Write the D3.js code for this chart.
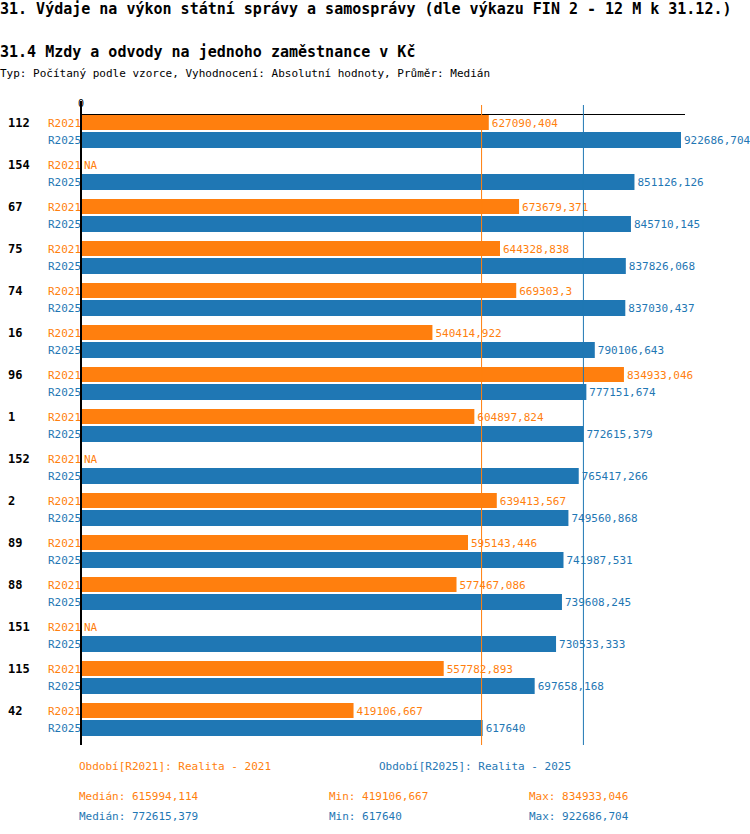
<!DOCTYPE html><html><head><meta charset="utf-8"><script src="https://cdn.jsdelivr.net/npm/d3@7"></script>
<style>body{margin:0;background:#fff}text{font-family:"DejaVu Sans Mono",monospace}</style></head><body><svg id="c" width="750" height="834"></svg>
<script>
const categories=["112","154","67","75","74","16","96","1","152","2","89","88","151","115","42"];
const r2021=[627090.404,null,673679.371,644328.838,669303.3,540414.922,834933.046,604897.824,null,639413.567,595143.446,577467.086,null,557782.893,419106.667];
const r2025=[922686.704,851126.126,845710.145,837826.068,837030.437,790106.643,777151.674,772615.379,765417.266,749560.868,741987.531,739608.245,730533.333,697658.168,617640];
const medians=[615994.114,772615.379];
const colors=["#ff7f0e","#1f77b4"];
const fmt=v=>String(v).replace(".",",");
const svg=d3.select("#c");
const x=d3.scaleLinear().domain([0,922686.704]).range([81,681]);
const y=d3.scaleBand().domain(categories).range([115,745]);
svg.append("text").attr("x",0).attr("y",14).attr("font-size",15).attr("font-weight","bold").text("31. Výdaje na výkon státní správy a samosprávy (dle výkazu FIN 2 - 12 M k 31.12.)");
svg.append("text").attr("x",0).attr("y",57).attr("font-size",15).attr("font-weight","bold").text("31.4 Mzdy a odvody na jednoho zaměstnance v Kč");
svg.append("text").attr("x",0).attr("y",77).attr("font-size",11).text("Typ: Počítaný podle vzorce, Vyhodnocení: Absolutní hodnoty, Průměr: Medián");
svg.append("text").attr("x",x(0)).attr("y",107).attr("font-size",10).attr("text-anchor","middle").text("0");
svg.append("line").attr("x1",x(0)).attr("x2",685).attr("y1",114.5).attr("y2",114.5).attr("stroke","#000");
categories.forEach((c,i)=>{
  const g=y(c);
  svg.append("text").attr("x",8).attr("y",g+12).attr("font-size",12).attr("font-weight","bold").text(c);
  [r2021[i],r2025[i]].forEach((v,k)=>{
    const yy=g+(k?17:0), h=k?16:15;
    svg.append("text").attr("x",48).attr("y",yy+h/2+4).attr("font-size",11).attr("fill",colors[k]).text(k?"R2025":"R2021");
    if(v==null){svg.append("text").attr("x",x(0)+3).attr("y",yy+h/2+4).attr("font-size",11).attr("fill",colors[k]).text("NA");return;}
    svg.append("rect").attr("x",x(0)).attr("y",yy).attr("width",x(v)-x(0)).attr("height",h).attr("fill",colors[k]);
    svg.append("text").attr("x",x(v)+3).attr("y",yy+h/2+4).attr("font-size",11).attr("fill",colors[k]).text(fmt(v));
  });
});
medians.forEach((m,k)=>svg.append("line").attr("x1",x(m)).attr("x2",x(m)).attr("y1",105).attr("y2",745).attr("stroke",colors[k]));
svg.append("line").attr("x1",x(0)).attr("x2",x(0)).attr("y1",101).attr("y2",745).attr("stroke","#000").attr("stroke-width",2);
const stats=[["615994,114","419106,667","834933,046"],["772615,379","617640","922686,704"]];
svg.append("text").attr("x",79).attr("y",770).attr("font-size",11).attr("fill",colors[0]).text("Období[R2021]: Realita - 2021");
svg.append("text").attr("x",379).attr("y",770).attr("font-size",11).attr("fill",colors[1]).text("Období[R2025]: Realita - 2025");
stats.forEach((s,k)=>{const yy=800+k*20;
  svg.append("text").attr("x",79).attr("y",yy).attr("font-size",11).attr("fill",colors[k]).text("Medián: "+s[0]);
  svg.append("text").attr("x",329).attr("y",yy).attr("font-size",11).attr("fill",colors[k]).text("Min: "+s[1]);
  svg.append("text").attr("x",529).attr("y",yy).attr("font-size",11).attr("fill",colors[k]).text("Max: "+s[2]);
});
</script></body></html>
